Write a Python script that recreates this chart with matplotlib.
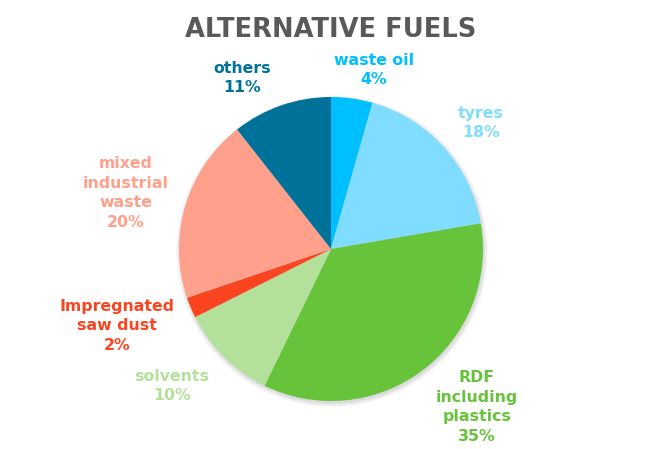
import matplotlib.pyplot as plt
import numpy as np

# data
labels = ['waste oil', 'tyres', 'RDF\nincluding\nplastics', 'solvents',
          'Impregnated\nsaw dust', 'mixed\nindustrial\nwaste', 'others']
values = [4.4, 17.9, 34.9, 10.4, 2.2, 19.6, 10.6]
colors = ['#00BFFF', '#80DDFF', '#66C33A', '#B3E19B', '#FA4520', '#FFA08C', '#007299']

# label positions in pixels (x, y from top)
label_pos = [(374, 70), (481, 123), (477, 407), (172, 386),
             (117, 326), (126, 193), (242, 78)]

W, H = 662, 449
fig = plt.figure(figsize=(W / 100, H / 100), dpi=100)
ax = fig.add_axes([0, 0, 1, 1])

cx, cy, r = 331, H - 249, 152

# soft shadow
for k in range(6):
    ax.add_patch(plt.Circle((cx + 1, cy - 2), r + 4 - k * 0.8, color='#000000',
                            alpha=0.025, lw=0))

ax.pie(values, colors=colors, startangle=90, counterclock=False,
       radius=r, center=(cx, cy), frame=True,
       wedgeprops=dict(linewidth=0))
ax.set_xlim(0, W)
ax.set_ylim(0, H)
ax.set_aspect('equal')
ax.axis('off')

for lab, v, c, (x, y) in zip(labels, values, colors, label_pos):
    ax.text(x, H - y, f'{lab}\n{round(v)}%', color=c, fontsize=11.3, fontweight='bold',
            ha='center', va='center', linespacing=1.4, family='DejaVu Sans')

ax.text(331, H - 30, 'ALTERNATIVE FUELS', color='#595959', fontsize=18.5,
        fontweight='bold', ha='center', va='center')

fig.savefig('out.png', dpi=100)
